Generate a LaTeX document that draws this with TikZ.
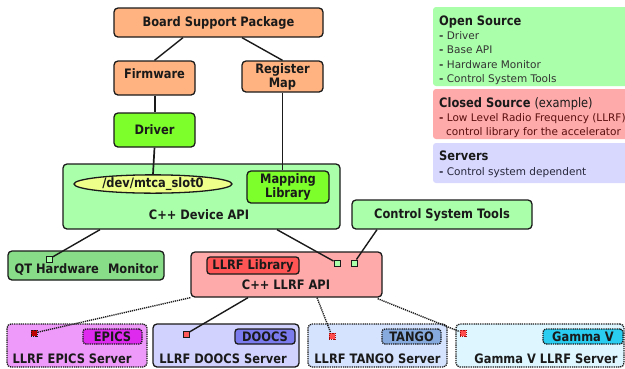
\documentclass[tikz,border=0pt]{standalone}
\usepackage{fontspec}
\setmainfont{DejaVu Sans}
\newfontfamily\boxfont{DejaVu Sans}[FakeStretch=0.88]
\usetikzlibrary{shapes.geometric,calc}
\definecolor{orangeb}{HTML}{FFB380}
\definecolor{greenb}{HTML}{7CFF2A}
\definecolor{lgreen}{HTML}{AAFFAA}
\definecolor{qtgreen}{HTML}{88DD88}
\definecolor{yellowb}{HTML}{EEFF8A}
\definecolor{pinkb}{HTML}{FFAAAA}
\definecolor{redb}{HTML}{FF5555}
\definecolor{epicsf}{HTML}{EE9AFA}
\definecolor{epicst}{HTML}{DD2AEE}
\definecolor{doocsf}{HTML}{D2D2FF}
\definecolor{doocst}{HTML}{7B7BEE}
\definecolor{tangof}{HTML}{D5E3FF}
\definecolor{tangot}{HTML}{87AADE}
\definecolor{gammaf}{HTML}{DDF6FF}
\definecolor{gammat}{HTML}{2ACCF0}
\definecolor{legclosed}{HTML}{FFAAAA}
\definecolor{legserv}{HTML}{D8D8FF}
\definecolor{ink}{HTML}{1A1A1A}
\definecolor{osc}{HTML}{333333}
\definecolor{csc}{HTML}{5A0E0E}
\definecolor{svc}{HTML}{26263A}
\newcommand\mainf{\boxfont\bfseries\fontsize{13}{14}\selectfont}
\newcommand\headf{\boxfont\bfseries\fontsize{13}{14}\selectfont}
\newcommand\itemf{\fontsize{10.5}{12}\selectfont}
\begin{document}
\begin{tikzpicture}[x=1pt,y=-1pt,
  box/.style={draw=ink, line width=1.3pt, rounded corners=4pt, inner sep=0pt,
    align=center, font=\mainf, text=ink},
  dbox/.style={box, dash pattern=on 1.3pt off 0.9pt},
  txt/.style={font=\mainf, text=ink, inner sep=0pt, align=center},
  tagbox/.style={box, rounded corners=3pt, minimum height=15},
  sq/.style={draw=ink, line width=1pt, minimum size=6, inner sep=0pt},
  conn/.style={draw=ink, line width=1.4pt},
  dconn/.style={draw=ink, line width=1.4pt, dash pattern=on 1.2pt off 0.9pt},
  leg/.style={rounded corners=3pt},
  lt/.style={anchor=base west, inner sep=0pt}]
\useasboundingbox (0,0) rectangle (625,368);

% legend
\fill[lgreen, leg] (433,7) rectangle (630,86);
\fill[legclosed, leg] (433,89) rectangle (630,139);
\fill[legserv, leg] (433,143) rectangle (630,183);
\node[lt, font=\headf, text=ink] (os) at (439,25) {Open Source};
\node[lt, font=\itemf, text=osc] (os1) at (439,39) {{\bfseries -} Driver};
\node[lt, font=\itemf, text=osc] (os2) at (439,53.5) {{\bfseries -} Base API};
\node[lt, font=\itemf, text=osc] (os3) at (439,68) {{\bfseries -} Hardware Monitor};
\node[lt, font=\itemf, text=osc] (os4) at (439,82.5) {{\bfseries -} Control System Tools};
\node[lt, font=\headf, text=ink] (cs) at (439,107) {Closed Source {\mdseries (example)}};
\node[lt, font=\itemf, text=csc] (cs1) at (439,121.5) {{\bfseries -} Low Level Radio Frequency (LLRF)};
\node[lt, font=\itemf, text=csc] (cs2) at (446,135) {control library for the accelerator};
\node[lt, font=\headf, text=ink] (sv) at (439,160) {Servers};
\node[lt, font=\itemf, text=svc] (sv1) at (439,175) {{\bfseries -} Control system dependent};

% top part
\node[box, fill=orangeb, minimum width=209, minimum height=29] (bsp) at (218.5,22.5) {Board Support Package};
\node[box, fill=orangeb, minimum width=81, minimum height=34] (fw) at (154.5,78) {};
\node[txt] (fwt) at (154.5,74) {Firmware};
\node[box, fill=orangeb, minimum width=81, minimum height=31] (reg) at (282.5,76.5) {Register\\Map};
\node[box, fill=greenb, minimum width=81, minimum height=34] (drv) at (154.5,130) {Driver};
\node[box, fill=lgreen, minimum width=277, minimum height=65] (dev) at (201.5,196.5) {};
\node[txt] (devt) at (199,215) {C++ Device API};
\node[draw=ink, ellipse, line width=1.3pt, fill=yellowb, minimum width=158, minimum height=18, inner sep=0pt, font=\mainf, text=ink] (slot) at (153,184) {/dev/mtca\_slot0};
\node[box, fill=greenb, minimum width=82, minimum height=32] (map) at (288,187) {Mapping\\Library};

\draw[conn] ($(bsp.south)+(-35.5,0)$) -- (fw.north);
\draw[conn] ($(bsp.south)+(23.5,0)$) -- (reg.north);
\draw[conn, line width=2pt] (fw.south) -- (drv.north);
\draw[conn, line width=1.7pt] (drv.south) -- (slot.north);
\draw[conn, line width=1.6pt] (reg.south) -- (reg.south |- map.north);

% middle
\node[box, fill=qtgreen, minimum width=156, minimum height=29] (qt) at (86,265.5) {};
\node[txt] (qtt) at (86.5,269.5) {QT Hardware\hspace{0.7em}Monitor};
\node[sq, fill=lgreen] (qtsq) at (49,259) {};
\node[box, fill=lgreen, minimum width=180, minimum height=29] (cst) at (442,214.5) {Control System Tools};
\node[box, fill=pinkb, minimum width=191, minimum height=45] (llrf) at (286.5,274.5) {};
\node[txt] (llrft) at (286,284.5) {C++ LLRF API};
\node[box, fill=redb, rounded corners=3pt, minimum width=92, minimum height=17] (lib) at (253,265.5) {LLRF Library};
\node[sq, fill=lgreen] (sq1) at (337,263) {};
\node[sq, fill=lgreen] (sq2) at (354,263) {};

\draw[conn] ($(dev.south)+(-101.5,0)$) -- (qtsq);
\draw[conn] ($(dev.south)+(75.5,0)$) -- (sq1);
\draw[conn] ($(cst.south)+(-65,0)$) -- (sq2);

% servers
\node[dbox, fill=epicsf, minimum width=140, minimum height=43] (epics) at (77,345.5) {};
\node[box, fill=doocsf, minimum width=146, minimum height=43] (doocs) at (226,345.5) {};
\node[dbox, fill=tangof, minimum width=139, minimum height=43] (tango) at (377.5,345.5) {};
\node[dbox, fill=gammaf, minimum width=168, minimum height=43] (gamma) at (540,345.5) {};
\node[tagbox, fill=epicst, dash pattern=on 1.3pt off 0.9pt, minimum width=59] (epicstag) at (112.5,336.5) {EPICS};
\node[tagbox, fill=doocst, minimum width=60] (doocstag) at (265,336.5) {DOOCS};
\node[tagbox, fill=tangot, dash pattern=on 1.3pt off 0.9pt, minimum width=59] (tangotag) at (411.5,336.5) {TANGO};
\node[tagbox, fill=gammat, dash pattern=on 1.3pt off 0.9pt, minimum width=80] (gammatag) at (583,336.5) {Gamma V};
\node[txt] (epicst) at (72,358.5) {LLRF EPICS Server};
\node[txt] (doocst) at (223,358.5) {LLRF DOOCS Server};
\node[txt] (tangot) at (377.5,358.5) {LLRF TANGO Server};
\node[txt] (gammatxt) at (546,358.5) {Gamma V LLRF Server};
\node[sq, fill=red!75!black, dash pattern=on 1pt off 0.8pt] (epicssq) at (34,333) {};
\node[sq, fill=red!65] (doocssq) at (186,334) {};
\node[sq, draw=red!60!ink, fill=red!70, dash pattern=on 1pt off 0.8pt] (tangosq) at (332,336) {};
\node[sq, draw=red!60!ink, fill=red!70, dash pattern=on 1pt off 0.8pt] (gammasq) at (463,333) {};

\draw[dconn] (llrf.south west) -- (epicssq);
\draw[conn] ($(llrf.south)+(-38.5,0)$) -- (doocssq);
\draw[dconn] ($(llrf.south)+(30.5,0)$) -- (tangosq);
\draw[dconn] ($(llrf.south east)+(-5,1)$) -- (gammasq);
\end{tikzpicture}
\end{document}
